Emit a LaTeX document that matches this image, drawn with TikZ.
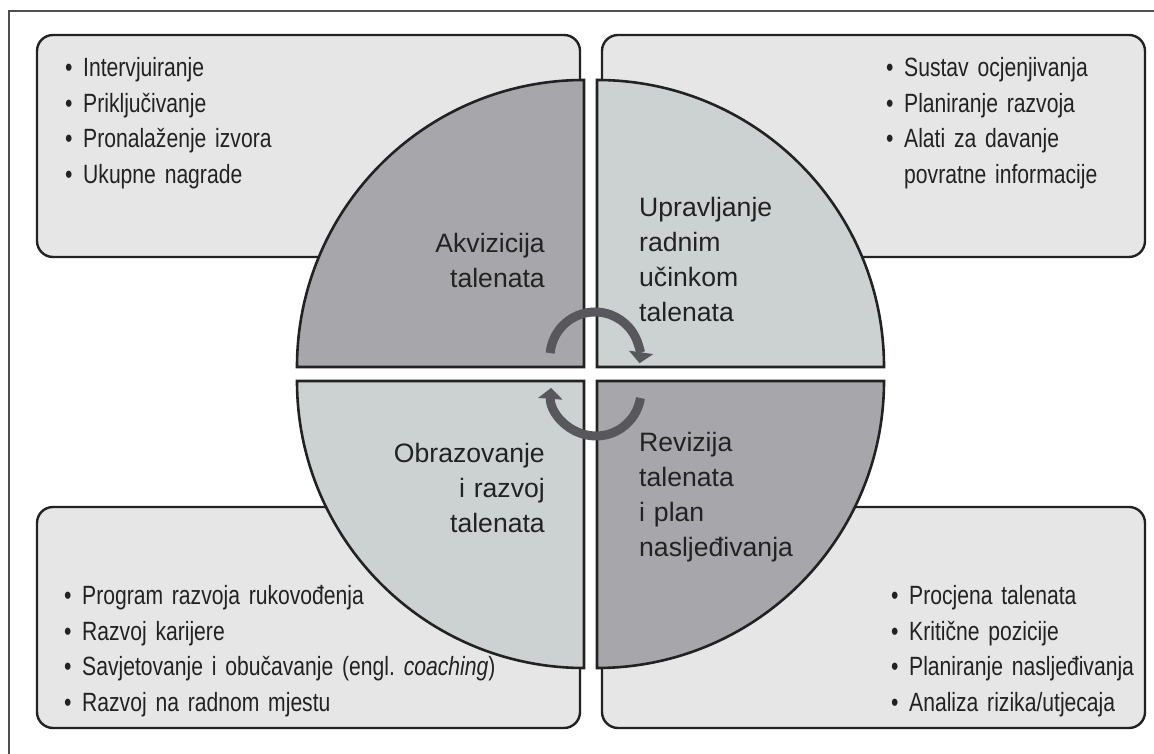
\documentclass[tikz,border=0pt]{standalone}
\usepackage{fontspec}
\setmainfont{Liberation Sans}
\newfontfamily\narrowfont{Liberation Sans}[FakeStretch=0.8]
\usepackage{tikz}
\usetikzlibrary{arrows.meta}
\definecolor{boxgray}{HTML}{E6E6E6}
\definecolor{darkq}{HTML}{A7A6AB}
\definecolor{lightq}{HTML}{CCD2D2}
\definecolor{arrowgray}{HTML}{58585C}
\definecolor{ink}{HTML}{222222}
\newcommand{\itm}[1]{\makebox[18pt][l]{\textbullet}#1}
\newcommand{\contd}[1]{\hspace*{18pt}#1}

\begin{document}
\begin{tikzpicture}[x=1pt,y=1pt,
  listbox/.style={draw=ink,line width=2.4pt,fill=boxgray,rounded corners=16pt},
  quarter/.style={draw=ink,line width=2.6pt},
  listtext/.style={anchor=base west,inner sep=0pt,text=ink,text width=480pt,align=left,
    font=\narrowfont\fontsize{26.4}{35.5}\selectfont},
  qleft/.style={anchor=base west,inner sep=0pt,text=ink,text width=240pt,align=left,
    font=\fontsize{26.6}{35}\selectfont},
  qright/.style={anchor=base east,inner sep=0pt,text=ink,text width=240pt,align=right,
    font=\fontsize{26.6}{35}\selectfont},
  cyclearrow/.style={draw=arrowgray,line width=9pt,-{Triangle[width=24pt,length=11pt]}}]
\useasboundingbox (0,0) rectangle (1154,754);
\draw[ink!80,line width=1.3pt] (9,-2) -- (9,743) -- (1157,743);

% the four boxes
\draw[listbox] (37,497) rectangle (580,719);
\draw[listbox] (602,497) rectangle (1145,719);
\draw[listbox] (37,26) rectangle (580,247);
\draw[listbox] (602,26) rectangle (1145,247);

% the circle, cut in four
\coordinate (hub) at (590.5,380);
\draw[quarter,fill=darkq] ([shift={(-6.5,7)}]hub) -- ++(-287,0)
  arc[start angle=180,end angle=90,radius=287] -- cycle;
\draw[quarter,fill=lightq] ([shift={(6.5,7)}]hub) -- ++(287,0)
  arc[start angle=0,end angle=90,radius=287] -- cycle;
\draw[quarter,fill=lightq] ([shift={(-6.5,-7)}]hub) -- ++(-287,0)
  arc[start angle=180,end angle=270,radius=287] -- cycle;
\draw[quarter,fill=darkq] ([shift={(6.5,-7)}]hub) -- ++(287,0)
  arc[start angle=0,end angle=-90,radius=287] -- cycle;

\draw[cyclearrow] ([shift={(4.5,17)}]hub) ++(175:45)
  arc[start angle=175,end angle=-8,radius=45];
\draw[cyclearrow] ([shift={(5.5,-17)}]hub) ++(-9:45)
  arc[start angle=-9,end angle=-184,radius=45];

\node[qright] (acq) at (545,501) {Akvizicija\\talenata};
\node[qleft] (perf) at (639,537) {Upravljanje\\radnim\\učinkom\\talenata};
\node[qright] (dev) at (545,291) {Obrazovanje\\i razvoj\\talenata};
\node[qleft] (rev) at (639,302) {Revizija\\talenata\\i plan\\nasljeđivanja};

\node[listtext] (acqlist) at (65,677) {\itm{Intervjuiranje}\\\itm{Priključivanje}\\
  \itm{Pronalaženje izvora}\\\itm{Ukupne nagrade}};
\node[listtext] (perflist) at (886,677) {\itm{Sustav ocjenjivanja}\\\itm{Planiranje razvoja}\\
  \itm{Alati za davanje}\\\contd{povratne informacije}};
\node[listtext] (devlist) at (64,149) {\itm{Program razvoja rukovođenja}\\\itm{Razvoj karijere}\\
  \itm{Savjetovanje i obučavanje (engl.\ \textit{coaching})}\\\itm{Razvoj na radnom mjestu}};
\node[listtext] (revlist) at (891,149) {\itm{Procjena talenata}\\\itm{Kritične pozicije}\\
  \itm{Planiranje nasljeđivanja}\\\itm{Analiza rizika/utjecaja}};
\end{tikzpicture}
\end{document}
